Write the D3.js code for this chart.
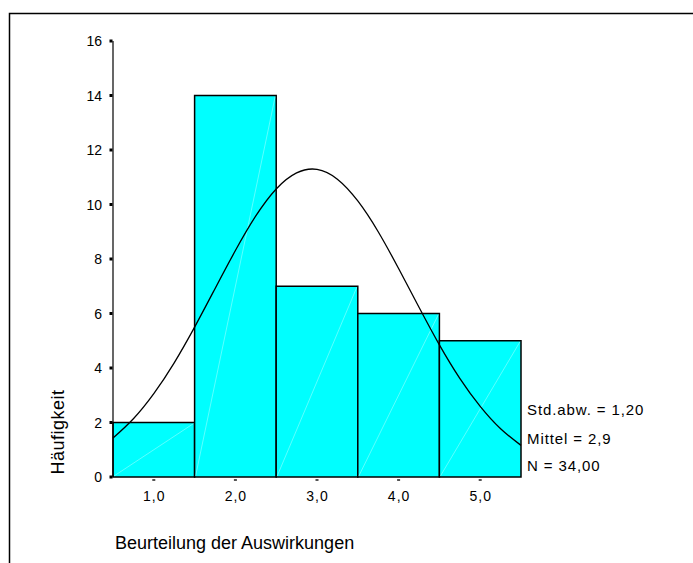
<!DOCTYPE html>
<html><head><meta charset="utf-8">
<script src="https://cdn.jsdelivr.net/npm/d3@7"></script>
<style>body{margin:0;background:#fff}svg{display:block}text{font-family:"Liberation Sans",Arial,sans-serif;fill:#000}</style>
</head><body><svg id="c" width="693" height="563"></svg>
<script>
const categories = [1, 2, 3, 4, 5];
const counts = [2, 14, 7, 6, 5];
const yTicks = [0, 2, 4, 6, 8, 10, 12, 14, 16];
const xTickLabels = ["1,0", "2,0", "3,0", "4,0", "5,0"];
const curveX = [0.5,0.75,1,1.25,1.5,1.75,2,2.25,2.5,2.75,3,3.25,3.5,3.75,4,4.25,4.5,4.75,5,5.25,5.5];
const curveY = [1.43,2.14,3.06,4.19,5.50,6.91,8.31,9.58,10.57,11.16,11.29,10.93,10.13,9.00,7.65,6.23,4.85,3.62,2.59,1.77,1.16];
const statLabels = ["Std.abw. = 1,20", "Mittel = 2,9", "N = 34,00"];
const yTitle = "Häufigkeit";
const xTitle = "Beurteilung der Auswirkungen";

const svg = d3.select("#c");
// frame
svg.append("path").attr("d","M9.5,563V13.5H693").attr("fill","none").attr("stroke","#000").attr("stroke-width",1.5);

const x = d3.scaleLinear().domain([0.5, 5.5]).range([113, 521]);
const y = d3.scaleLinear().domain([0, 16]).range([477, 41]);

// bars
const g = svg.append("g");
categories.forEach((c, i) => {
  const x0 = x(c - 0.5), x1 = x(c + 0.5), yt = y(counts[i]), yb = y(0);
  g.append("rect").attr("x", x0).attr("y", yt).attr("width", x1 - x0).attr("height", yb - yt)
    .attr("fill", "#00ffff").attr("stroke", "#000").attr("stroke-width", 1.5);
  g.append("line").attr("x1", x0 + 1).attr("y1", yb - 1).attr("x2", x1 - 1).attr("y2", yt + 1)
    .attr("stroke", "#fff").attr("stroke-width", 0.6).attr("opacity", 0.6);
});

// y axis
svg.append("line").attr("x1", 113).attr("x2", 113).attr("y1", y(16)).attr("y2", y(0)).attr("stroke", "#000").attr("stroke-width", 1.2);
yTicks.forEach(t => {
  svg.append("rect").attr("x", 109.5).attr("y", y(t) - 1.5).attr("width", 3).attr("height", 3).attr("fill", "#000");
  svg.append("text").attr("x", 102).attr("y", y(t)).attr("dy", "0.36em").attr("text-anchor", "end")
    .attr("font-size", 14).text(t);
});

// x ticks
categories.forEach((c, i) => {
  svg.append("rect").attr("x", x(c) - 1.5).attr("y", 479).attr("width", 3).attr("height", 2).attr("fill", "#555");
  svg.append("text").attr("x", x(c) + 0.5).attr("y", 501).attr("text-anchor", "middle").attr("font-size", 14)
    .attr("letter-spacing", 1).text(xTickLabels[i]);
});

// normal curve
const line = d3.line().x((d, i) => x(curveX[i])).y(d => y(d)).curve(d3.curveNatural);
svg.append("path").datum(curveY).attr("d", line).attr("fill", "none").attr("stroke", "#000").attr("stroke-width", 1.3);

// stats
const statBase = [415, 444, 471];
statLabels.forEach((s, i) => {
  svg.append("text").attr("x", 527).attr("y", statBase[i]).attr("font-size", 15).attr("letter-spacing", 0.9).text(s);
});

// titles
svg.append("text").attr("transform", "translate(64,432) rotate(-90)").attr("text-anchor", "middle")
  .attr("font-size", 18).attr("letter-spacing", 0.5).text(yTitle);
svg.append("text").attr("x", 115).attr("y", 549).attr("font-size", 18).text(xTitle);
</script></body></html>
